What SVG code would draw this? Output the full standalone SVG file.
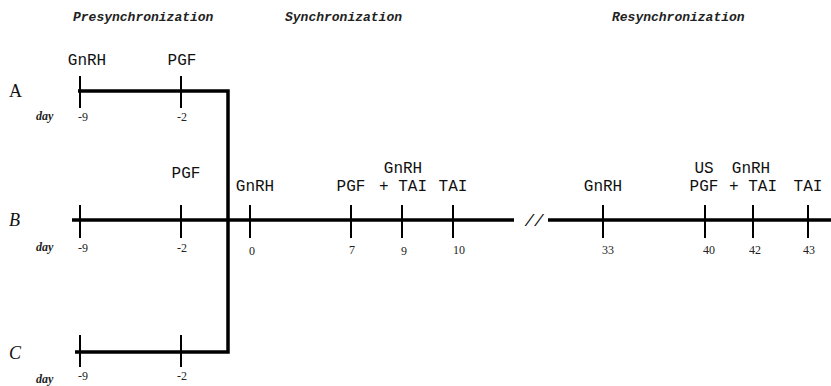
<svg xmlns="http://www.w3.org/2000/svg" width="831" height="386" viewBox="0 0 831 386">
<style>
.hdr{font-family:"Liberation Mono",monospace;font-style:italic;font-weight:bold;font-size:13px;fill:#222}
.lbl{font-family:"Liberation Mono",monospace;font-size:16px;fill:#111;text-anchor:middle}
.num{font-family:"Liberation Serif",serif;font-size:12px;fill:#222;text-anchor:middle}
.day{font-family:"Liberation Serif",serif;font-style:italic;font-weight:bold;font-size:12px;fill:#222}
.row{font-family:"Liberation Serif",serif;font-size:18px;fill:#111}
.line{stroke:#000;stroke-width:3.5;fill:none}
.tick{stroke:#000;stroke-width:2;fill:none}
</style>
<rect width="831" height="386" fill="#fff"/>
<g id="headers">
<text class="hdr" x="73" y="21">Presynchronization</text>
<text class="hdr" x="285" y="21">Synchronization</text>
<text class="hdr" x="612" y="21">Resynchronization</text>
</g>
<g id="connectors">
<polyline class="line" points="78,91 228,91 228,352 75,352"/>
<line class="line" x1="72" y1="220" x2="514" y2="220"/>
<line class="line" x1="548" y1="220" x2="831" y2="220"/>
</g>
<g id="rowA">
<text class="row" x="9" y="97">A</text>
<text class="day" x="36" y="120">day</text>
<line class="tick" x1="80" y1="76" x2="80" y2="108"/>
<line class="tick" x1="181" y1="76" x2="181" y2="108"/>
<text class="lbl" x="87" y="65">GnRH</text>
<text class="lbl" x="182" y="65">PGF</text>
<text class="num" x="83" y="121">-9</text>
<text class="num" x="182" y="121">-2</text>
</g>
<g id="rowB">
<text class="row" x="9" y="226" font-style="italic">B</text>
<text class="day" x="36" y="251">day</text>
<line class="tick" x1="80" y1="205" x2="80" y2="238"/>
<line class="tick" x1="181" y1="205" x2="181" y2="238"/>
<line class="tick" x1="250" y1="205" x2="250" y2="238"/>
<line class="tick" x1="351" y1="205" x2="351" y2="238"/>
<line class="tick" x1="402" y1="205" x2="402" y2="238"/>
<line class="tick" x1="453" y1="205" x2="453" y2="238"/>
<line class="tick" x1="603" y1="205" x2="603" y2="238"/>
<line class="tick" x1="705" y1="205" x2="705" y2="238"/>
<line class="tick" x1="753" y1="205" x2="753" y2="238"/>
<line class="tick" x1="808" y1="205" x2="808" y2="238"/>
<text class="lbl" x="186" y="178">PGF</text>
<text class="lbl" x="255" y="191">GnRH</text>
<text class="lbl" x="351" y="191">PGF</text>
<text class="lbl" x="403" y="173">GnRH</text>
<text class="lbl" x="403" y="191">+ TAI</text>
<text class="lbl" x="453" y="191">TAI</text>
<text class="lbl" x="603" y="191">GnRH</text>
<text class="lbl" x="704" y="173">US</text>
<text class="lbl" x="704" y="191">PGF</text>
<text class="lbl" x="751" y="173">GnRH</text>
<text class="lbl" x="753" y="191">+ TAI</text>
<text class="lbl" x="808" y="191">TAI</text>
<text class="lbl" x="534" y="226" font-style="italic">//</text>
<text class="num" x="83" y="252">-9</text>
<text class="num" x="182" y="252">-2</text>
<text class="num" x="252" y="255">0</text>
<text class="num" x="352" y="254">7</text>
<text class="num" x="404" y="255">9</text>
<text class="num" x="459" y="254">10</text>
<text class="num" x="608" y="254">33</text>
<text class="num" x="709" y="254">40</text>
<text class="num" x="755" y="254">42</text>
<text class="num" x="809" y="254">43</text>
</g>
<g id="rowC">
<text class="row" x="9" y="359" font-style="italic">C</text>
<text class="day" x="36" y="383">day</text>
<line class="tick" x1="80" y1="335" x2="80" y2="367"/>
<line class="tick" x1="181" y1="335" x2="181" y2="367"/>
<text class="num" x="83" y="380">-9</text>
<text class="num" x="182" y="380">-2</text>
</g>
</svg>
